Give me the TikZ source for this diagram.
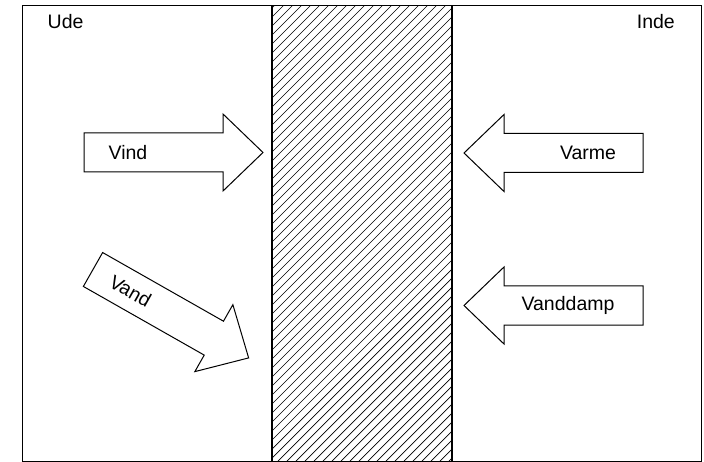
\documentclass[tikz,border=0pt]{standalone}
\usepackage{fontspec}
\setmainfont{Liberation Sans}
\begin{document}
\begin{tikzpicture}[x=1pt,y=-1pt,
  lbl/.style={font=\fontsize{19.5}{23}\selectfont, inner sep=0pt},
  frameline/.style={line width=1pt, black},
  wallline/.style={line width=1.3pt, black},
  hatchline/.style={line width=0.7pt, black},
  arrowline/.style={line width=1pt, black, line join=miter, fill=white},
  bigarrow/.pic={
    \draw[arrowline] (0,-19.5) -- (139,-19.5) -- (139,-38.5) -- (179,0)
      -- (139,38.5) -- (139,19.5) -- (0,19.5) -- cycle;
  }]
\useasboundingbox (0,0) rectangle (704,462);
% frame
\draw[frameline] (22,6) rectangle (701.5,461);
% wall hatching
\begin{scope}
  \clip (272,6) rectangle (452,462);
  \foreach \i in {-200,-191,...,460}
    \draw[hatchline] (\i,462) -- (\i+462,0);
\end{scope}
\draw[wallline] (272,6) -- (272,462);
\draw[wallline] (452,6) -- (452,462);
% labels
\node[lbl, anchor=base west] (ude) at (47.5,29) {Ude};
\node[lbl, anchor=base east] (inde) at (675,29) {Inde};
% Vind
\pic at (84,152.5) {bigarrow};
\node[lbl] (vind) at (128,152.5) {Vind};
% Varme
\pic[rotate=180] at (643,153) {bigarrow};
\node[lbl] (varme) at (588,153) {Varme};
% Vanddamp
\pic[rotate=180] at (643,305.5) {bigarrow};
\node[lbl] (vanddamp) at (568,305.5) {Vanddamp};
% Vand
\pic[rotate=-29.6] at (93,269.5) {bigarrow};
\node[lbl, rotate=-29.6] (vand) at (130.5,291) {Vand};
\end{tikzpicture}
\end{document}
